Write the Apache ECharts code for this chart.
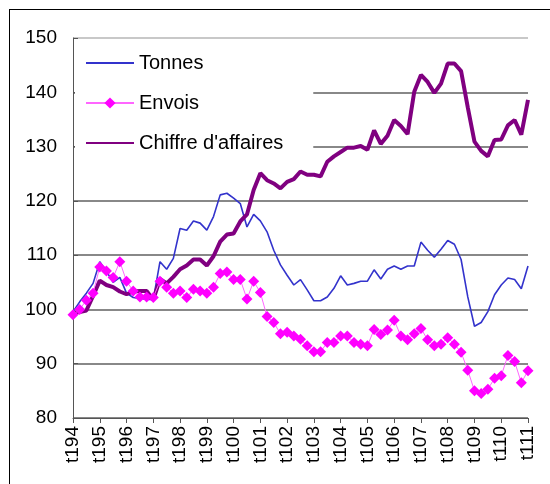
<!DOCTYPE html>
<html>
<head>
<meta charset="utf-8">
<script src="https://cdn.jsdelivr.net/npm/echarts@6/dist/echarts.min.js"></script>
<style>
  html, body { margin: 0; padding: 0; background: #fff; }
  #frame {
    position: absolute; left: 9px; top: 9px; width: 560px; height: 500px;
    border-left: 1px solid #000; border-top: 1px solid #000;
  }
  #chart { position: absolute; left: 0; top: 0; width: 550px; height: 484px; }
</style>
</head>
<body>
<div id="frame"></div>
<div id="chart"></div>
<script>
// years shown on the axis (first quarter of each year gets a label)
const years = ["94", "95", "96", "97", "98", "99", "00", "01", "02", "03",
  "04", "05", "06", "07", "08", "09", "10", "11"]

const tonnes = [99.6, 101.4, 103.0, 104.8, 108.8, 107.0, 105.0, 105.9, 103.0, 102.2,
  102.0, 101.9, 101.8, 108.8, 107.4, 109.4, 114.9, 114.6, 116.3, 115.9,
  114.6, 117.1, 121.1, 121.4, 120.5, 119.5, 115.2, 117.5, 116.3, 114.3,
  110.9, 108.2, 106.3, 104.5, 105.5, 103.6, 101.6, 101.6, 102.3, 103.9,
  106.2, 104.5, 104.8, 105.2, 105.2, 107.3, 105.6, 107.4, 108.0, 107.4,
  108.0, 108.0, 112.4, 110.9, 109.6, 111.1, 112.7, 112.0, 109.2, 102.3,
  96.9, 97.6, 99.6, 102.7, 104.5, 105.8, 105.5, 103.8, 108.0]

const envois = [99.0, 100.0, 101.7, 103.0, 107.8, 107.1, 105.9, 108.8, 105.2, 103.4,
  102.3, 102.3, 102.2, 105.2, 104.1, 103.0, 103.4, 102.2, 103.7, 103.4,
  103.0, 104.1, 106.6, 106.9, 105.5, 105.5, 101.9, 105.2, 103.1, 98.7,
  97.6, 95.5, 95.8, 95.1, 94.5, 93.3, 92.2, 92.2, 93.9, 93.9,
  95.1, 95.1, 93.9, 93.6, 93.3, 96.3, 95.4, 96.2, 98.0, 95.1,
  94.4, 95.5, 96.5, 94.4, 93.3, 93.6, 94.8, 93.6, 92.1, 88.8,
  85.0, 84.5, 85.3, 87.3, 87.8, 91.5, 90.4, 86.5, 88.7]

const chiffre = [99.3, 99.5, 99.8, 102.5, 105.3, 104.5, 104.1, 103.3, 102.8, 103.3,
  103.4, 103.4, 101.8, 105.6, 104.8, 106.0, 107.4, 108.1, 109.2, 109.2,
  108.1, 109.8, 112.5, 113.8, 114.0, 116.2, 117.5, 122.0, 125.1, 123.8,
  123.2, 122.3, 123.5, 124.0, 125.4, 124.8, 124.8, 124.5, 127.2, 128.2,
  129.0, 129.8, 129.8, 130.1, 129.4, 133.0, 130.5, 132.0, 134.9, 133.8,
  132.3, 140.1, 143.2, 141.9, 139.9, 141.6, 145.3, 145.3, 143.9, 137.2,
  130.9, 129.2, 128.2, 131.2, 131.3, 133.9, 134.9, 132.2, 138.6]

// quarters t1..t4 of each year, stopping at t1 of the last year
const categories = []
years.forEach((y, i) => {
  const last = i === years.length - 1
  for (let q = 1; q <= (last ? 1 : 4); q++) categories.push("t" + q + y)
})

const font = "Liberation Sans, Arial, sans-serif"
const chart = echarts.init(document.getElementById("chart"))

chart.setOption({
  animation: false,
  grid: { left: 73, right: 22, top: 38, bottom: 66 },
  legend: {
    data: [
      { name: "Tonnes", itemStyle: { opacity: 0 } },
      "Envois",
      { name: "Chiffre d'affaires", itemStyle: { opacity: 0 } }
    ],
    orient: "vertical",
    left: 75,
    top: 41,
    padding: [12, 30, 14, 10],
    backgroundColor: "#fff",
    itemWidth: 48,
    itemHeight: 14,
    itemGap: 20,
    textStyle: { fontFamily: font, fontSize: 20, color: "#000", lineHeight: 20 }
  },
  xAxis: {
    type: "category",
    data: categories,
    boundaryGap: false,
    axisLine: { lineStyle: { color: "#555", width: 1 } },
    axisTick: { interval: 3, length: 5, lineStyle: { color: "#555" } },
    axisLabel: {
      interval: 3,
      rotate: 90,
      margin: 8,
      fontFamily: font,
      fontSize: 19,
      color: "#000"
    },
    splitLine: { show: false }
  },
  yAxis: {
    type: "value",
    min: 80,
    max: 150,
    interval: 10,
    axisLine: { show: true, lineStyle: { color: "#555", width: 1 } },
    axisTick: { show: true, inside: true, length: 5, lineStyle: { color: "#555" } },
    axisLabel: { fontFamily: font, fontSize: 19, color: "#000", margin: 16 },
    splitLine: {
      lineStyle: {
        width: 2,
        color: ["#888", "#888", "#888", "#888", "#888", "#888", "#888", "#c8c8c8"]
      }
    }
  },
  series: [
    {
      name: "Tonnes",
      type: "line",
      data: tonnes,
      symbol: "none",
      lineStyle: { color: "#3333cc", width: 1.6 },
      itemStyle: { color: "#3333cc" }
    },
    {
      name: "Chiffre d'affaires",
      type: "line",
      data: chiffre,
      symbol: "none",
      lineStyle: { color: "#800080", width: 4 },
      itemStyle: { color: "#800080" }
    },
    {
      name: "Envois",
      type: "line",
      data: envois,
      symbol: "diamond",
      symbolSize: 11,
      showAllSymbol: true,
      lineStyle: { color: "#ff66ff", width: 1 },
      itemStyle: { color: "#ff00ff" }
    }
  ]
})
</script>
</body>
</html>
